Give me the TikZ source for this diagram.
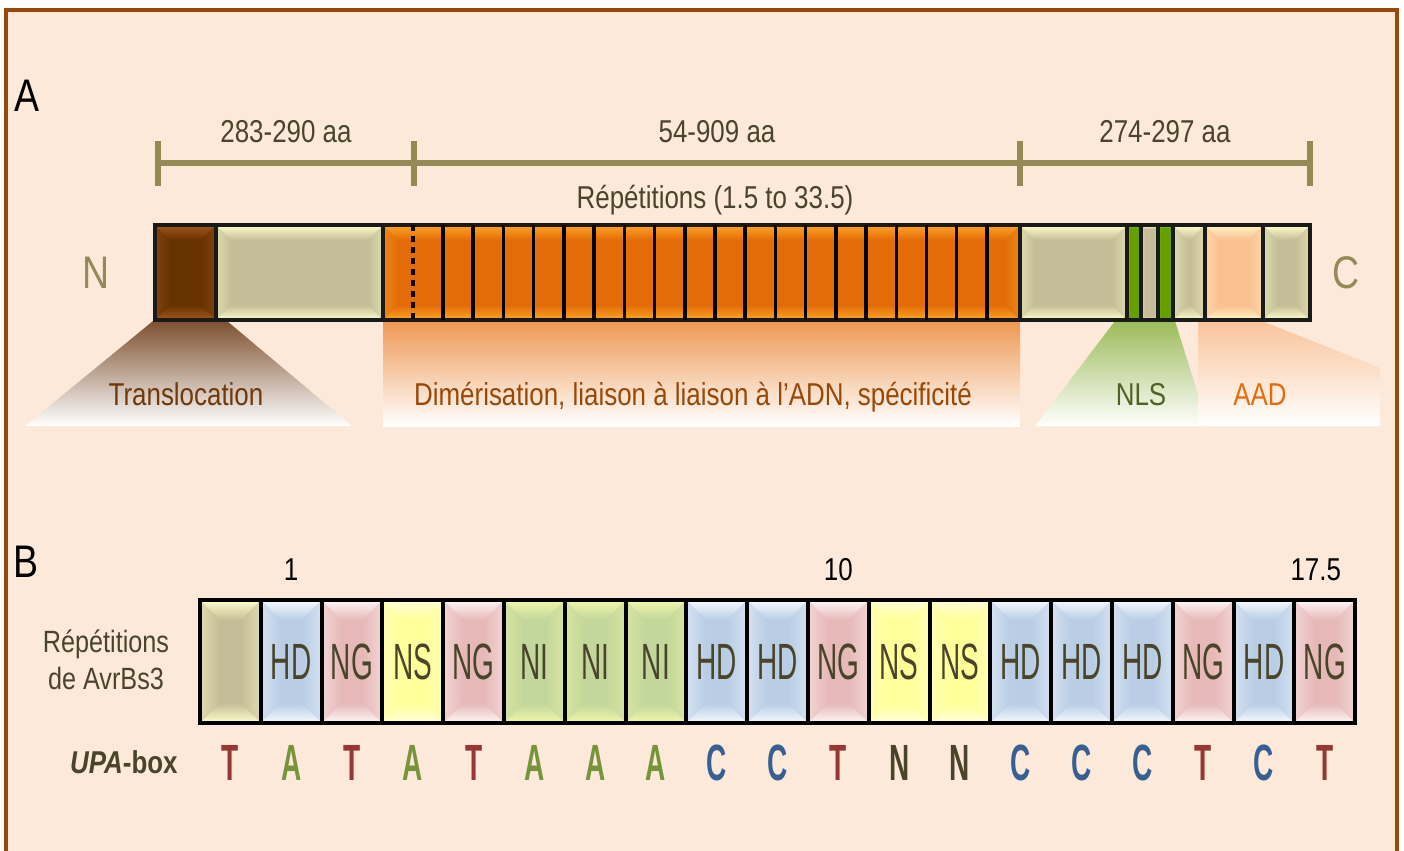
\documentclass[tikz,border=0pt]{standalone}
\usepackage{fontspec}
\setmainfont{Liberation Sans}[FakeStretch=0.82]
\newfontfamily\repfont{Liberation Sans}[FakeStretch=0.55]
\usetikzlibrary{positioning, calc}

\newdimen\pxl \pxl=0.02cm

\definecolor{frame}{HTML}{984807}
\definecolor{paper}{HTML}{FDE9D9}
\definecolor{olv}{HTML}{948A54}
\definecolor{ink}{HTML}{4A452A}
\definecolor{barc}{HTML}{1A1A1A}
\definecolor{brn}{HTML}{663300}
\definecolor{brnl}{HTML}{A3561C}
\definecolor{beig}{HTML}{C4BD97}
\definecolor{beigl}{HTML}{FFFFCC}
\definecolor{orng}{HTML}{E36C09}
\definecolor{orngl}{HTML}{FFA524}
\definecolor{grn}{HTML}{66A000}
\definecolor{grnl}{HTML}{94DA1E}
\definecolor{pch}{HTML}{FAC090}
\definecolor{pchl}{HTML}{FFF4C4}
\definecolor{hdc}{HTML}{B9CDE5}
\definecolor{hdl}{HTML}{F6FAFF}
\definecolor{ngc}{HTML}{E6B9B8}
\definecolor{ngl}{HTML}{FFF6F6}
\definecolor{nsc}{HTML}{FFFF99}
\definecolor{nsl}{HTML}{FFFFD8}
\definecolor{nic}{HTML}{C3D69B}
\definecolor{nil}{HTML}{F2F7A8}
\definecolor{trs}{HTML}{7D5030}
\definecolor{dimc}{HTML}{EE9853}
\definecolor{nlsc}{HTML}{9BBB59}
\definecolor{aadc}{HTML}{F9C49A}
\definecolor{trt}{HTML}{6E3A0C}
\definecolor{dmt}{HTML}{984807}
\definecolor{nlt}{HTML}{4F6228}
\definecolor{aat}{HTML}{E46C0A}
\definecolor{tc}{HTML}{953735}
\definecolor{ac}{HTML}{77933C}
\definecolor{cc}{HTML}{376092}

\tikzset{
  bevel depth/.store in=\bvd, bevel depth=15,
  bevel/.style 2 args={fill=#1, path picture={
    \coordinate (pa) at (path picture bounding box.north west);
    \coordinate (pb) at (path picture bounding box.north east);
    \coordinate (pc) at (path picture bounding box.south east);
    \coordinate (pd) at (path picture bounding box.south west);
    \shade[left color=#2!45!#1, right color=#1] (pa) -- ($(pa)+(\bvd,\bvd)$) -- ($(pd)+(\bvd,-\bvd)$) -- (pd) -- cycle;
    \shade[right color=#2!45!#1, left color=#1] (pb) -- ($(pb)+(-\bvd,\bvd)$) -- ($(pc)+(-\bvd,-\bvd)$) -- (pc) -- cycle;
    \shade[top color=#2, bottom color=#1] (pa) -- (pb) -- ($(pb)+(-\bvd,\bvd)$) -- ($(pa)+(\bvd,\bvd)$) -- cycle;
    \shade[bottom color=#2, top color=#1] (pd) -- (pc) -- ($(pc)+(-\bvd,-\bvd)$) -- ($(pd)+(\bvd,-\bvd)$) -- cycle;
  }},
}

\begin{document}
\begin{tikzpicture}[x=0.02cm, y=-0.02cm,
    bar/.style={draw=barc, line width=3.5\pxl, outer sep=0pt, inner sep=0pt,
                minimum height=95\pxl, bevel depth=15},
    rep/.style={draw=black, line width=4\pxl, outer sep=0pt, inner sep=0pt,
                minimum width=60.8\pxl, minimum height=123\pxl, bevel depth=20,
                text=ink, font=\repfont\fontsize{29}{30}\selectfont},
    nuc/.style={inner sep=0pt, anchor=base, font=\repfont\bfseries\fontsize{29}{30}\selectfont},
    dim/.style={inner sep=0pt, text=ink, font=\fontsize{18}{21}\selectfont},
    lbl/.style={inner sep=0pt, anchor=base, font=\fontsize{18}{21}\selectfont},
    panel/.style={inner sep=0pt, font=\fontsize{26}{30}\selectfont},
    term/.style={inner sep=0pt, text=olv, font=\fontsize{26}{30}\selectfont},
    tick/.style={draw=olv, line width=6\pxl},
    stripe/.style={draw=black, line width=3.5\pxl},
]
\clip (0,0) rectangle (1404,850);
\fill[white] (0,0) rectangle (1404,850);
\draw[frame, line width=4\pxl, fill=paper] (6,10) rectangle (1396.5,900);

\node[panel] (pA) at (27,96) {A};
\node[panel] (pB) at (26,562) {B};

\coordinate (s0) at (158,163);
\coordinate (s1) at (414,163);
\coordinate (s2) at (1020,163);
\coordinate (s3) at (1310,163);
\draw[tick] (s0) -- node[dim, above=17\pxl]{283-290 aa} (s1)
               -- node[dim, above=17\pxl]{54-909 aa} (s2)
               -- node[dim, above=17\pxl]{274-297 aa} (s3);
\foreach \s in {s0,s1,s2,s3}
  \draw[tick] ([yshift=22.5\pxl]\s) -- ([yshift=-22.5\pxl]\s);
\node[dim, anchor=base] (rpt) at (715,208) {Répétitions (1.5 to 33.5)};

\shade[top color=trs, middle color=trs!45!white, bottom color=white]
  (153,321) -- (227,321) -- (352,426) -- (25,426) -- cycle;
\shade[top color=dimc, middle color=dimc!40!white, bottom color=white]
  (383,321) rectangle (1020,426);
\shade[top color=nlsc, middle color=nlsc!45!white, bottom color=white]
  (1115,321) -- (1175,321) -- (1208,426) -- (1035,426) -- cycle;
\shade[top color=aadc, middle color=aadc!50!white, bottom color=white]
  (1198,321) -- (1262,321) -- (1380,368) -- (1380,426) -- (1198,426) -- cycle;

\node[bar, bevel={brn}{brnl}, minimum width=61\pxl, anchor=west] (nt) at (155,272.5) {};
\node[bar, bevel={beig}{beigl}, minimum width=167\pxl, right=0pt of nt] (lb) {};
\node[bar, bevel={orng}{orngl}, minimum width=637\pxl, right=0pt of lb] (rp) {};
\node[bar, bevel={beig}{beigl}, minimum width=107\pxl, right=0pt of rp] (rb) {};
\node[bar, bevel={grn}{grnl}, bevel depth=3, minimum width=14\pxl, right=0pt of rb] (g1) {};
\node[bar, bevel={beig}{beigl}, bevel depth=4, minimum width=17\pxl, right=0pt of g1] (m1) {};
\node[bar, bevel={grn}{grnl}, bevel depth=3, minimum width=15\pxl, right=0pt of m1] (g2) {};
\node[bar, bevel={beig}{beigl}, minimum width=32\pxl, right=0pt of g2] (m2) {};
\node[bar, bevel={pch}{pchl}, minimum width=58\pxl, right=0pt of m2] (ad) {};
\node[bar, bevel={beig}{beigl}, minimum width=47\pxl, right=0pt of ad] (ce) {};

\draw[stripe, dash pattern=on 0.12cm off 0.1cm] ($(rp.north west)+(30,0)$) -- ($(rp.south west)+(30,0)$);
\foreach \k in {0,...,18}
  \draw[stripe] ($(rp.north west)+({60+30.22*\k},0)$) -- ($(rp.south west)+({60+30.22*\k},0)$);

\node[term, left=45\pxl of nt] (nlab) {N};
\node[term, right=22\pxl of ce] (clab) {C};

\node[lbl, text=trt] (tl) at (186,405) {Translocation};
\node[lbl, text=dmt] (dl) at (693,405) {Dimérisation, liaison à liaison à l’ADN, spécificité};
\node[lbl, text=nlt] (nl) at (1141,405) {NLS};
\node[lbl, text=aat] (al) at (1260,405) {AAD};

\foreach \lab/\col/\lit [count=\i] in {{}/beig/beigl, HD/hdc/hdl, NG/ngc/ngl, NS/nsc/nsl,
    NG/ngc/ngl, NI/nic/nil, NI/nic/nil, NI/nic/nil, HD/hdc/hdl, HD/hdc/hdl, NG/ngc/ngl,
    NS/nsc/nsl, NS/nsc/nsl, HD/hdc/hdl, HD/hdc/hdl, HD/hdc/hdl, NG/ngc/ngl, HD/hdc/hdl, NG/ngc/ngl}
  \node[rep, bevel={\col}{\lit}] (r\i) at ({200+60.8*(\i-0.5)},661.5) {\lab};

\foreach \nt/\ncol [count=\i] in {T/tc, A/ac, T/tc, A/ac, T/tc, A/ac, A/ac, A/ac, C/cc, C/cc,
    T/tc, N/ink, N/ink, C/cc, C/cc, C/cc, T/tc, C/cc, T/tc}
  \node[nuc, text=\ncol] (u\i) at ([yshift=-57\pxl]r\i.south) {\nt};

\node[dim, anchor=base, text=black] (n1) at ([yshift=20\pxl]r2.north) {1};
\node[dim, anchor=base, text=black] (n10) at ([yshift=20\pxl]r11.north) {10};
\node[dim, anchor=base, text=black] (n17) at ([xshift=-9\pxl, yshift=20\pxl]r19.north) {17.5};

\node[lbl, text=ink, font=\fontsize{17.5}{21}\selectfont] (rl1) at (106,652) {Répétitions};
\node[lbl, text=ink, font=\fontsize{17.5}{21}\selectfont] (rl2) at (106,689) {de AvrBs3};
\node[lbl, anchor=base east, text=ink, font=\bfseries\fontsize{18}{21}\selectfont] (upa) at (178,773) {\textit{UPA}-box};
\end{tikzpicture}
\end{document}
